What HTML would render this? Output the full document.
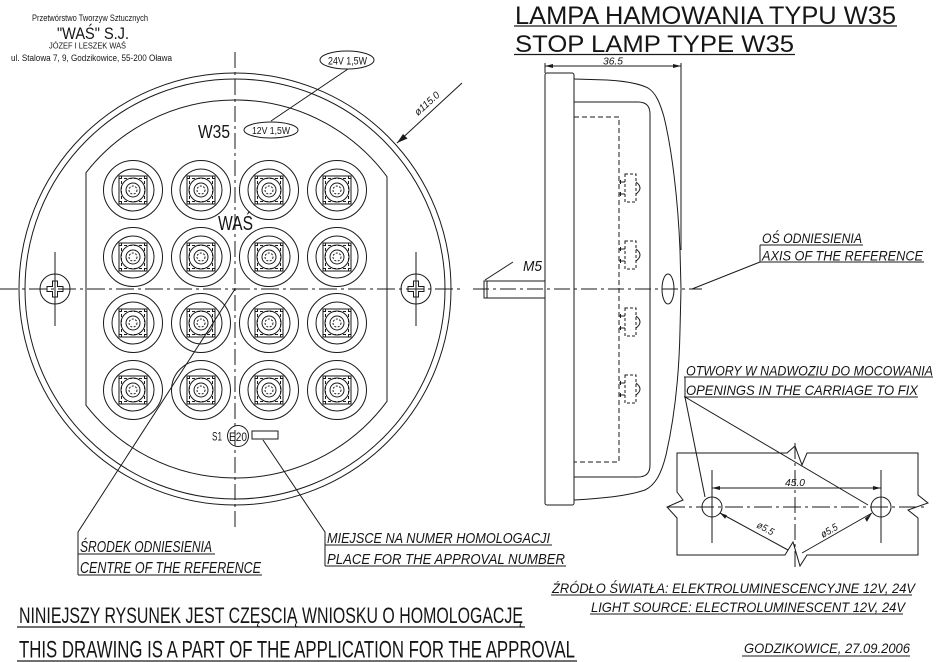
<!DOCTYPE html>
<html><head><meta charset="utf-8"><style>
html,body{margin:0;padding:0;background:#fff;}
svg{display:block;}
text{font-family:"Liberation Sans","DejaVu Sans",sans-serif;fill:#151515;}
.it{font-style:italic;}
</style></head><body>
<svg width="937" height="662" viewBox="0 0 937 662" xmlns="http://www.w3.org/2000/svg">
<defs>
<g id="led" fill="none" stroke="#1a1a1a" stroke-width="1">
<circle r="29.5"/>
<circle r="21"/>
<rect x="-14" y="-14" width="28" height="28"/>
<line x1="-11.5" y1="-14" x2="-11.5" y2="14" stroke-dasharray="3 2"/>
<line x1="11.5" y1="-14" x2="11.5" y2="14" stroke-dasharray="3 2"/>
<line x1="-14" y1="-11.5" x2="14" y2="-11.5" stroke-dasharray="3 2"/>
<line x1="-14" y1="11.5" x2="14" y2="11.5" stroke-dasharray="3 2"/>
<circle r="12"/>
<circle r="7"/>
<circle r="4" stroke-dasharray="2 1.5"/>
</g>
<g id="screw" fill="none" stroke="#1a1a1a" stroke-width="1">
<circle r="15"/>
<path d="M-2.5,-8 L2.5,-8 L2.5,-2.5 L8,-2.5 L8,2.5 L2.5,2.5 L2.5,8 L-2.5,8 L-2.5,2.5 L-8,2.5 L-8,-2.5 L-2.5,-2.5 Z"/>
<line x1="0" y1="-37" x2="0" y2="37"/>
</g>
<g id="conn" fill="none" stroke="#1a1a1a" stroke-width="1">
<rect x="625" y="-14" width="11" height="28" stroke-dasharray="3 2"/>
<path d="M636,-6 Q644,0 636,6"/>
<line x1="619" y1="-6" x2="625" y2="-6"/>
<line x1="619" y1="6" x2="625" y2="6"/>
<line x1="620.5" y1="-8" x2="620.5" y2="-4"/>
<line x1="620.5" y1="4" x2="620.5" y2="8"/>
</g>
</defs>

<!-- Company header -->
<text x="32" y="21" font-size="9" textLength="116" lengthAdjust="spacingAndGlyphs">Przetwórstwo Tworzyw Sztucznych</text>
<text x="57" y="39" font-size="17" textLength="72" lengthAdjust="spacingAndGlyphs">"WAŚ" S.J.</text>
<text x="49" y="48.5" font-size="8" textLength="77" lengthAdjust="spacingAndGlyphs">JÓZEF I LESZEK WAŚ</text>
<text x="11" y="61" font-size="9" textLength="161" lengthAdjust="spacingAndGlyphs">ul. Stalowa 7, 9, Godzikowice, 55-200 Oława</text>

<!-- Front view -->
<g fill="none" stroke="#1a1a1a" stroke-width="1">
<circle cx="235" cy="289" r="216"/>
<circle cx="235" cy="289" r="210"/>
<path d="M86,172.7 A189,189 0 0 1 387,176.7 L387,401.3 A189,189 0 0 1 86,405.3 Z"/>
<!-- centre lines -->
<line x1="0" y1="289" x2="463" y2="289" stroke-dasharray="18 4 3 4"/>
<line x1="235" y1="52" x2="235" y2="527" stroke-dasharray="16 4 3 4"/>
<!-- ovals -->
<ellipse cx="347" cy="60" rx="27" ry="9"/>
<ellipse cx="271" cy="130" rx="27" ry="8"/>
<line x1="348" y1="69" x2="271" y2="121"/>
<!-- dia dimension -->
<line x1="397" y1="143" x2="462" y2="83"/>
<!-- E20 mark -->
<circle cx="238" cy="436" r="10.5"/>
<rect x="252" y="431" width="26" height="8"/>
<!-- leaders -->
<polyline points="235,289 78,532 78,575"/>
<polyline points="263,440 325,532 325,566"/>
<line x1="78" y1="554" x2="215" y2="554"/>
<line x1="78" y1="575" x2="262" y2="575"/>
<line x1="325" y1="545" x2="552" y2="545"/>
<line x1="325" y1="566" x2="566" y2="566"/>
</g>
<path d="M397,143 L407.5,138.5 L403,134 Z" fill="#1a1a1a"/>

<use href="#screw" x="55" y="289"/>
<use href="#screw" x="416" y="289"/>

<use href="#led" x="133" y="190"/><use href="#led" x="201" y="190"/><use href="#led" x="269" y="190"/><use href="#led" x="337" y="190"/>
<use href="#led" x="133" y="257"/><use href="#led" x="201" y="257"/><use href="#led" x="269" y="257"/><use href="#led" x="337" y="257"/>
<use href="#led" x="133" y="323"/><use href="#led" x="201" y="323"/><use href="#led" x="269" y="323"/><use href="#led" x="337" y="323"/>
<use href="#led" x="133" y="390"/><use href="#led" x="201" y="390"/><use href="#led" x="269" y="390"/><use href="#led" x="337" y="390"/>

<text x="198" y="138" font-size="18" textLength="32" lengthAdjust="spacingAndGlyphs">W35</text>
<text x="252" y="134" font-size="10" textLength="38" lengthAdjust="spacingAndGlyphs">12V 1,5W</text>
<text x="328" y="64.5" font-size="11" textLength="39" lengthAdjust="spacingAndGlyphs">24V 1,5W</text>
<text x="218" y="230" font-size="20" textLength="35" lengthAdjust="spacingAndGlyphs">WAŚ</text>
<text class="it" font-size="10" textLength="30" lengthAdjust="spacingAndGlyphs" transform="translate(418,116) rotate(-42)">ø115.0</text>
<text x="212" y="440.5" font-size="12" textLength="10" lengthAdjust="spacingAndGlyphs">S1</text>
<text x="229" y="441" font-size="12" textLength="18" lengthAdjust="spacingAndGlyphs">E20</text>

<text class="it" x="80" y="552" font-size="16" textLength="132" lengthAdjust="spacingAndGlyphs">ŚRODEK ODNIESIENIA</text>
<text class="it" x="80" y="573" font-size="16" textLength="181" lengthAdjust="spacingAndGlyphs">CENTRE OF THE REFERENCE</text>
<text class="it" x="327" y="543" font-size="15" textLength="223" lengthAdjust="spacingAndGlyphs">MIEJSCE NA NUMER HOMOLOGACJI</text>
<text class="it" x="327" y="564" font-size="15" textLength="238" lengthAdjust="spacingAndGlyphs">PLACE FOR THE APPROVAL NUMBER</text>

<!-- bottom notes -->
<text x="19" y="623" font-size="22" textLength="504" lengthAdjust="spacingAndGlyphs">NINIEJSZY RYSUNEK JEST CZĘSCIĄ WNIOSKU O HOMOLOGACJĘ</text>
<text x="19" y="657.5" font-size="24" textLength="556" lengthAdjust="spacingAndGlyphs">THIS DRAWING IS A PART OF THE APPLICATION FOR THE APPROVAL</text>
<g stroke="#1a1a1a" stroke-width="1.2">
<line x1="17" y1="627" x2="525" y2="627"/>
<line x1="17" y1="661" x2="577" y2="661"/>
</g>

<!-- Titles -->
<text x="515" y="24" font-size="25" textLength="381" lengthAdjust="spacingAndGlyphs">LAMPA HAMOWANIA TYPU W35</text>
<text x="515" y="52" font-size="24" textLength="279" lengthAdjust="spacingAndGlyphs">STOP LAMP TYPE W35</text>
<g stroke="#1a1a1a" stroke-width="1.2">
<line x1="514" y1="26" x2="897" y2="26"/>
<line x1="514" y1="54.5" x2="795" y2="54.5"/>
</g>

<!-- Side view -->
<g fill="none" stroke="#1a1a1a" stroke-width="1">
<rect x="545" y="73" width="29" height="432" rx="2"/>
<path d="M574,79 L607,80 C625,81 640,84 648,88 C656,93 660,103 664,117 C672,150 678,200 680,250 L681,289 L680,330 C679,380 674,420 666,455 C661,475 655,485 645,490 C630,495 610,498 574,500"/>
<path d="M574,102 L638,102 Q650,102 650,114 L650,465 Q650,477 638,477 L574,477"/>
<path d="M574,117 L619,117 L619,462 L574,462" stroke-dasharray="5 3"/>
<!-- dim 36.5 -->
<line x1="545" y1="66" x2="681" y2="66"/>
<line x1="545" y1="63" x2="545" y2="73"/>
<line x1="681" y1="63" x2="681" y2="250"/>
<!-- bolt -->
<rect x="484" y="281" width="61" height="17"/>
<line x1="487" y1="281" x2="487" y2="298"/>
<line x1="485" y1="280" x2="513" y2="262"/>
<!-- axis -->
<line x1="473" y1="289" x2="702" y2="289" stroke-dasharray="16 4 3 4"/>
<ellipse cx="668" cy="289" rx="6" ry="15"/>
<polyline points="692,289 760,262 760,245"/>
<line x1="760" y1="245" x2="863" y2="245"/>
<line x1="760" y1="262" x2="924" y2="262"/>
</g>
<path d="M545,66 L553,64 L553,68 Z M681,66 L673,64 L673,68 Z" fill="#1a1a1a"/>
<use href="#conn" x="0" y="188"/>
<use href="#conn" x="0" y="255"/>
<use href="#conn" x="0" y="322"/>
<use href="#conn" x="0" y="389"/>

<text class="it" x="603" y="64.5" font-size="10" textLength="20" lengthAdjust="spacingAndGlyphs">36.5</text>
<text class="it" x="523" y="271" font-size="15" textLength="19" lengthAdjust="spacingAndGlyphs">M5</text>
<text class="it" x="762" y="243" font-size="14" textLength="100" lengthAdjust="spacingAndGlyphs">OŚ ODNIESIENIA</text>
<text class="it" x="762" y="260.5" font-size="14" textLength="161" lengthAdjust="spacingAndGlyphs">AXIS OF THE REFERENCE</text>

<!-- Mounting holes -->
<g fill="none" stroke="#1a1a1a" stroke-width="1">
<path d="M677,492 L677,453 L787,453 L795,446 L802,465 L807,453 L918,453 L918,495 L928,503 L908,510 L918,518 L918,555 L807,555 L800,566 L793,542 L785,555 L677,555 L677,518 L667,507 L683,500 Z"/>
<line x1="667" y1="507" x2="927" y2="507" stroke-dasharray="18 4 3 4"/>
<line x1="795" y1="443" x2="795" y2="570" stroke-dasharray="16 4 3 4"/>
<circle cx="712" cy="507" r="10"/>
<circle cx="881" cy="507" r="10"/>
<line x1="712" y1="470" x2="712" y2="543"/>
<line x1="881" y1="470" x2="881" y2="543"/>
<line x1="712" y1="488" x2="881" y2="488"/>
<line x1="720" y1="513" x2="788" y2="550"/>
<line x1="872" y1="513" x2="802" y2="553"/>
<polyline points="705,497 685,397 868,505"/>
<line x1="685" y1="377" x2="685" y2="397"/>
<line x1="684" y1="377" x2="933" y2="377"/>
<line x1="684" y1="397" x2="918" y2="397"/>
<line x1="551" y1="595" x2="912" y2="595"/>
<line x1="590" y1="614" x2="903" y2="614"/>
<line x1="742" y1="656" x2="910" y2="656"/>
</g>
<path d="M712,488 L720,486 L720,490 Z M881,488 L873,486 L873,490 Z M720,513 L727,515.2 L725.1,518.7 Z M872,513 L864.9,518.4 L866.9,521.9 Z" fill="#1a1a1a"/>
<text class="it" x="795" y="486" font-size="10" text-anchor="middle" textLength="20" lengthAdjust="spacingAndGlyphs">45.0</text>
<text class="it" font-size="10" textLength="18" lengthAdjust="spacingAndGlyphs" transform="translate(756,527) rotate(28.5)">ø5.5</text>
<text class="it" font-size="10" textLength="18" lengthAdjust="spacingAndGlyphs" transform="translate(823,538) rotate(-30)">ø5.5</text>

<text class="it" x="686" y="375.5" font-size="14" textLength="247" lengthAdjust="spacingAndGlyphs">OTWORY W NADWOZIU DO MOCOWANIA</text>
<text class="it" x="686" y="395" font-size="14" textLength="232" lengthAdjust="spacingAndGlyphs">OPENINGS IN THE CARRIAGE TO FIX</text>
<text class="it" x="552" y="593" font-size="14" textLength="363" lengthAdjust="spacingAndGlyphs">ŹRÓDŁO ŚWIATŁA: ELEKTROLUMINESCENCYJNE 12V, 24V</text>
<text class="it" x="591" y="612" font-size="14" textLength="314" lengthAdjust="spacingAndGlyphs">LIGHT SOURCE: ELECTROLUMINESCENT 12V, 24V</text>
<text class="it" x="744" y="653" font-size="14" textLength="166" lengthAdjust="spacingAndGlyphs">GODZIKOWICE, 27.09.2006</text>
</svg>
</body></html>
